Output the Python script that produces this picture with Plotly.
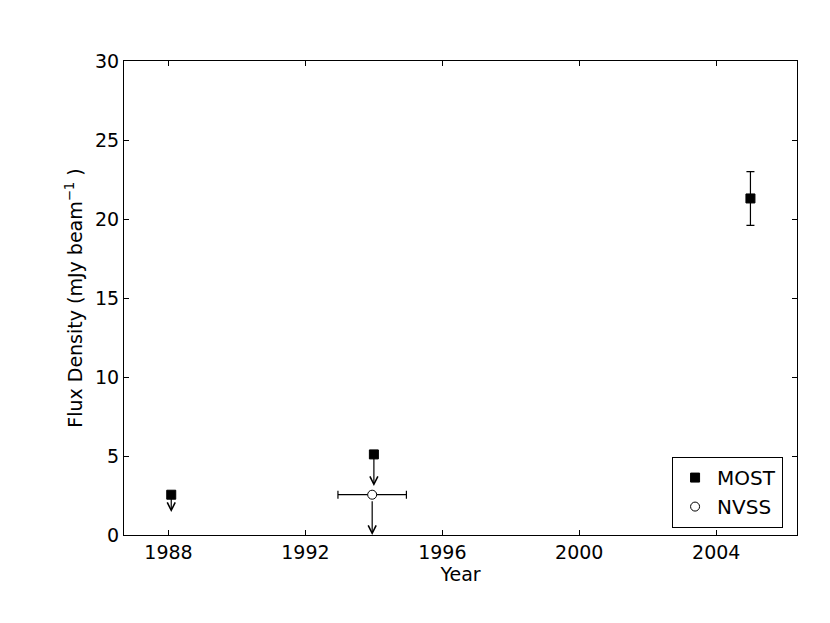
import plotly.graph_objects as go

# --- data ---
most_year = [1988.08, 1994.0, 2005.0]
most_flux = [2.55, 5.1, 21.3]
most_err = [0.0, 0.0, 1.7]
most_is_limit = [True, True, False]
most_limit_len = [1.1, 2.0, 0.0]

nvss_year = [1993.95]
nvss_flux = [2.55]
nvss_xerr = [1.0]
nvss_limit_len = [2.55]

x_ticks = [1988, 1992, 1996, 2000, 2004]
y_ticks = [0, 5, 10, 15, 20, 25, 30]

FONT = "DejaVu Sans"
FS = 19

fig = go.Figure()

fig.add_trace(go.Scatter(
    x=most_year, y=most_flux, mode="markers", name="MOST",
    marker=dict(symbol="square", size=9, color="black", line=dict(color="black", width=1)),
    error_y=dict(type="data", array=most_err, symmetric=True, color="black", thickness=1.2, width=4),
))

fig.add_trace(go.Scatter(
    x=nvss_year, y=nvss_flux, mode="markers", name="NVSS",
    marker=dict(symbol="circle", size=9, color="white", line=dict(color="black", width=1)),
    error_x=dict(type="data", array=nvss_xerr, symmetric=True, color="black", thickness=1.2, width=4),
))

annotations = []
for xv, yv, lim, ln in zip(most_year, most_flux, most_is_limit, most_limit_len):
    if lim:
        annotations.append(dict(
            x=xv, y=yv - ln, ax=xv, ay=yv, xref="x", yref="y", axref="x", ayref="y",
            showarrow=True, arrowhead=5, arrowsize=1.3, arrowwidth=1.2, arrowcolor="black",
            text="", startstandoff=0,
        ))
for xv, yv, ln in zip(nvss_year, nvss_flux, nvss_limit_len):
    annotations.append(dict(
        x=xv, y=yv - ln, ax=xv, ay=yv, xref="x", yref="y", axref="x", ayref="y",
        showarrow=True, arrowhead=5, arrowsize=1.3, arrowwidth=1.2, arrowcolor="black",
        text="", startstandoff=5,
    ))

axis_common = dict(
    showline=True, linecolor="black", linewidth=1.2, mirror="ticks",
    ticks="inside", ticklen=5, tickcolor="black", tickwidth=1,
    showgrid=False, zeroline=False,
    tickfont=dict(family=FONT, size=FS, color="black"),
)

fig.update_layout(
    width=830, height=623,
    margin=dict(l=116, r=41, t=53, b=96),
    paper_bgcolor="white", plot_bgcolor="white",
    font=dict(family=FONT, size=FS, color="black"),
    xaxis=dict(range=[1986.7, 2006.36], tickvals=x_ticks, ticktext=[str(t) for t in x_ticks],
               title=dict(text="Year", font=dict(family=FONT, size=FS), standoff=0), **axis_common),
    yaxis=dict(range=[0, 30], tickvals=y_ticks,
               title=dict(text="Flux Density (mJy beam<sup>−1</sup> )", font=dict(family=FONT, size=FS), standoff=7),
               **axis_common),
    legend=dict(x=0.979, y=0.015, xanchor="right", yanchor="bottom",
                bordercolor="black", borderwidth=1.2, bgcolor="white",
                font=dict(family=FONT, size=20), itemwidth=34, tracegroupgap=0),
    showlegend=True,
    annotations=annotations,
)

fig.write_html("out.html")
